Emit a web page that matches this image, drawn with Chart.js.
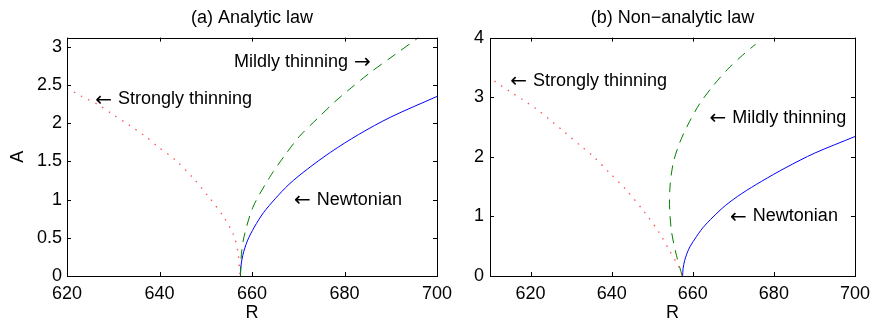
<!DOCTYPE html>
<html>
<head>
<meta charset="utf-8">
<script src="https://cdn.jsdelivr.net/npm/chart.js@4.4.1/dist/chart.umd.min.js"></script>
<style>
    body { margin: 0; background: #fff; }
    #wrap { position: relative; width: 877px; height: 322px; overflow: hidden; }
    canvas { position: absolute; top: 0; }
    #chartA { left: 0; }
    #chartB { left: 440px; }
</style>
</head>
<body>
<div id="wrap">
    <canvas id="chartA" width="460" height="322"></canvas>
    <canvas id="chartB" width="437" height="322"></canvas>
</div>
<script>
'use strict';

// (a) Analytic law
var analyticStrongR = [620, 623.2, 626.8, 630, 633.3, 636.9, 639.7, 643.4, 647.3, 650.6, 653.8, 656, 657, 657.4];
var analyticStrongA = [2.46, 2.35, 2.24, 2.11, 1.98, 1.83, 1.69, 1.52, 1.28, 1.04, 0.78, 0.54, 0.30, 0];
var analyticMildR = [657.5, 657.7, 658.3, 660.2, 663.8, 667.1, 670.3, 674.3, 677.9, 681, 685.5, 690.5, 696];
var analyticMildA = [0, 0.28, 0.52, 0.90, 1.29, 1.58, 1.83, 2.07, 2.28, 2.44, 2.66, 2.88, 3.12];
var analyticNewtR = [657.5, 657.6, 658, 659, 660.5, 662.5, 665, 668, 672, 677, 683, 690, 700];
var analyticNewtA = [0, 0.12, 0.27, 0.46, 0.64, 0.83, 1.01, 1.20, 1.40, 1.62, 1.85, 2.08, 2.35];

// (b) Non-analytic law
var nonAnalyticStrongR = [611.1, 614.8, 618, 621.7, 625.3, 628.1, 632.6, 635.4, 639.5, 643.5, 648, 651.6, 654.4, 656.5, 657.4];
var nonAnalyticStrongA = [3.27, 3.10, 2.96, 2.79, 2.59, 2.43, 2.17, 2.01, 1.73, 1.45, 1.08, 0.74, 0.41, 0.16, 0];
var nonAnalyticMildR = [657.4, 656, 654.8, 654.3, 654.4, 655.2, 656.8, 658.9, 661.7, 665, 668.6, 672.2, 675.5];
var nonAnalyticMildA = [0, 0.34, 0.73, 1.12, 1.51, 1.90, 2.24, 2.55, 2.89, 3.19, 3.47, 3.70, 3.89];
var nonAnalyticNewtR = [657.5, 657.6, 658, 659, 660.5, 662.5, 665, 668, 672, 677, 683, 690, 700];
var nonAnalyticNewtA = [0, 0.12, 0.26, 0.45, 0.62, 0.81, 0.99, 1.18, 1.38, 1.59, 1.82, 2.06, 2.34];

var FONT = '"Liberation Sans", Arial, Helvetica, sans-serif';
var ARROW_FONT = '"DejaVu Sans", sans-serif';
Chart.defaults.font.family = FONT;
Chart.defaults.font.size = 18;
Chart.defaults.color = '#000';

function pairs(rs, as) {
    return rs.map(function (r, i) { return { x: r, y: as[i] }; });
}

function series(rs, as, color, dash, width) {
    return {
        data: pairs(rs, as),
        borderColor: color,
        borderWidth: width,
        borderDash: dash,
        pointRadius: 0,
        tension: 0.3,
        fill: false
    };
}

// matlab-like box with inward ticks on all sides, plus the text notes
var boxTicks = {
    id: 'boxTicks',
    afterDatasetsDraw: function (chart, args, opts) {
        var ctx = chart.ctx, a = chart.chartArea;
        var sx = chart.scales.x, sy = chart.scales.y;
        ctx.save();
        ctx.strokeStyle = '#000';
        ctx.lineWidth = 1;
        ctx.beginPath();
        sx.ticks.forEach(function (t) {
            var px = Math.round(sx.getPixelForValue(t.value)) + 0.5;
            ctx.moveTo(px, a.bottom); ctx.lineTo(px, a.bottom - 4);
            ctx.moveTo(px, a.top); ctx.lineTo(px, a.top + 4);
        });
        sy.ticks.forEach(function (t) {
            var py = Math.round(sy.getPixelForValue(t.value)) + 0.5;
            ctx.moveTo(a.left, py); ctx.lineTo(a.left + 4, py);
            ctx.moveTo(a.right, py); ctx.lineTo(a.right - 4, py);
        });
        ctx.stroke();
        ctx.strokeRect(Math.round(a.left) + 0.5, Math.round(a.top) + 0.5,
            Math.round(a.right - a.left), Math.round(a.bottom - a.top));

        ctx.fillStyle = '#000';
        ctx.textBaseline = 'middle';
        ctx.textAlign = 'left';
        (opts.notes || []).forEach(function (n) {
            var x = sx.getPixelForValue(n.r), y = sy.getPixelForValue(n.a);
            var arrow = n.dir === 'left' ? '\u2190' : '\u2192';
            if (n.dir === 'left') {
                ctx.font = '20px ' + ARROW_FONT;
                ctx.fillText(arrow, x, y + 1);
                x += ctx.measureText(arrow).width + 6;
                ctx.font = '18px ' + FONT;
                ctx.fillText(n.text, x, y);
            } else {
                ctx.font = '18px ' + FONT;
                ctx.fillText(n.text, x, y);
                x += ctx.measureText(n.text).width + 6;
                ctx.font = '20px ' + ARROW_FONT;
                ctx.fillText(arrow, x, y + 1);
            }
        });
        ctx.restore();
    }
};

function makeChart(id, p) {
    return new Chart(document.getElementById(id), {
        type: 'line',
        data: { datasets: p.datasets },
        options: {
            responsive: false,
            animation: false,
            layout: { padding: { left: 0, right: p.padRight, top: 0, bottom: 0 } },
            plugins: {
                legend: { display: false },
                tooltip: { enabled: false },
                title: {
                    display: true,
                    text: p.title,
                    fullSize: false,
                    font: { size: 18, weight: 'normal', lineHeight: 1.2 },
                    padding: { top: 7, bottom: 9 }
                },
                boxTicks: { notes: p.notes }
            },
            scales: {
                x: {
                    type: 'linear',
                    min: p.xMin, max: 700,
                    grid: { display: false, drawTicks: false },
                    border: { display: false },
                    ticks: { stepSize: 20, includeBounds: false, padding: 7, maxRotation: 0 },
                    title: { display: true, text: 'R', font: { size: 18, lineHeight: 1 }, padding: 0 },
                    afterFit: function (s) { s.height = 46; }
                },
                y: {
                    type: 'linear',
                    min: 0, max: p.yMax,
                    grid: { display: false, drawTicks: false },
                    border: { display: false },
                    ticks: {
                        stepSize: p.yStep, includeBounds: false, padding: p.yPad,
                        callback: function (v) { return String(v); }
                    },
                    title: { display: !!p.yTitle, text: p.yTitle || '', font: { size: 18, lineHeight: 1 }, padding: { top: 9, bottom: 0 } },
                    afterFit: function (s) { s.width = p.yWidth; }
                }
            }
        },
        plugins: [boxTicks]
    });
}

makeChart('chartA', {
    title: '(a) Analytic law',
    xMin: 620, yMax: 3.12, yStep: 0.5, yTitle: 'A',
    yWidth: 67, yPad: 5, padRight: 23,
    datasets: [
        series(analyticStrongR, analyticStrongA, 'rgba(255,40,40,0.8)', [1.5, 6.5], 1.3),
        series(analyticMildR, analyticMildA, '#008000', [10, 7], 1),
        series(analyticNewtR, analyticNewtA, '#0000ff', [], 1)
    ],
    notes: [
        { text: 'Mildly thinning', dir: 'right', r: 656.1, a: 2.80 },
        { text: 'Strongly thinning', dir: 'left', r: 626.1, a: 2.31 },
        { text: 'Newtonian', dir: 'left', r: 669.1, a: 1.0 }
    ]
});

makeChart('chartB', {
    title: '(b) Non\u2212analytic law',
    xMin: 610, yMax: 4, yStep: 1, yTitle: null,
    yWidth: 50, yPad: 6, padRight: 16,
    datasets: [
        series(nonAnalyticStrongR, nonAnalyticStrongA, 'rgba(255,40,40,0.8)', [1.5, 6.5], 1.3),
        series(nonAnalyticMildR, nonAnalyticMildA, '#008000', [10, 7], 1),
        series(nonAnalyticNewtR, nonAnalyticNewtA, '#0000ff', [], 1)
    ],
    notes: [
        { text: 'Strongly thinning', dir: 'left', r: 615, a: 3.27 },
        { text: 'Mildly thinning', dir: 'left', r: 664.1, a: 2.65 },
        { text: 'Newtonian', dir: 'left', r: 669.2, a: 1.0 }
    ]
});
</script>
</body>
</html>
